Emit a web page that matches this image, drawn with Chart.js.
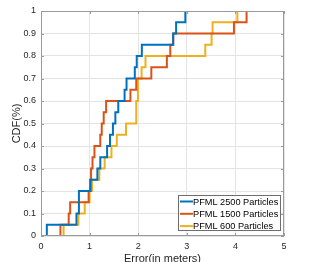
<!DOCTYPE html>
<html><head><meta charset="utf-8">
<script src="https://cdn.jsdelivr.net/npm/chart.js@4.4.1/dist/chart.umd.min.js"></script>
<style>html,body{margin:0;padding:0;background:#fff;overflow:hidden}</style>
</head><body>
<canvas id="c" width="314" height="262" style="display:block;width:314px;height:262px"></canvas>
<script>
const seriesNames = ['PFML 2500 Particles', 'PFML 1500 Particles', 'PFML 600 Particles'];
const err2500 = [0.12, 0.73, 0.78, 0.78, 1.02, 1.16, 1.22, 1.36, 1.42, 1.48, 1.53, 1.59, 1.72, 1.76, 1.93, 1.97, 2.075, 2.72, 2.78, 2.97];
const err1500 = [0.40, 0.57, 0.60, 0.98, 1.01, 1.03, 1.06, 1.10, 1.22, 1.25, 1.29, 1.34, 1.84, 1.96, 2.27, 2.59, 2.66, 2.72, 3.97, 4.23];
const err600  = [0.465, 0.77, 0.90, 1.00, 1.05, 1.20, 1.31, 1.45, 1.56, 1.75, 1.96, 1.96, 1.995, 1.995, 2.07, 2.15, 3.38, 3.51, 3.53, 4.04];
const cdfLevels = [0.05, 0.10, 0.15, 0.20, 0.25, 0.30, 0.35, 0.40, 0.45, 0.50, 0.55, 0.60, 0.65, 0.70, 0.75, 0.80, 0.85, 0.90, 0.95, 1.00];
const xTickLabels = ['0', '1', '2', '3', '4', '5'];
const yTickLabels = ['0', '0.1', '0.2', '0.3', '0.4', '0.5', '0.6', '0.7', '0.8', '0.9', '1'];
const seriesColors = ['#0072BD', '#D95319', '#EDB120'];

function cdfPoints(errs) {
  const pts = [{x: errs[0], y: 0}];
  errs.forEach((e, i) => pts.push({x: e, y: cdfLevels[i]}));
  return pts;
}

const FONT = '"Liberation Sans", Arial, Helvetica, sans-serif';
const TXT = '#262626';

const framePlugin = {
  id: 'frame',
  afterDraw(chart) {
    const ctx = chart.ctx, ca = chart.chartArea;
    const xs = chart.scales.x, ys = chart.scales.y;
    ctx.save();
    ctx.strokeStyle = '#9a9a9a';
    ctx.lineWidth = 1;
    ctx.strokeRect(Math.round(ca.left) + 0.5, Math.round(ca.top) + 0.5, Math.round(ca.right - ca.left) - 1, Math.round(ca.bottom - ca.top) - 1);
    ctx.beginPath();
    xs.ticks.forEach(t => {
      const px = Math.round(xs.getPixelForValue(t.value)) + 0.5;
      ctx.moveTo(px, ca.bottom); ctx.lineTo(px, ca.bottom - 3);
      ctx.moveTo(px, ca.top); ctx.lineTo(px, ca.top + 3);
    });
    ys.ticks.forEach(t => {
      const py = Math.round(ys.getPixelForValue(t.value)) + 0.5;
      ctx.moveTo(ca.left, py); ctx.lineTo(ca.left + 3, py);
      ctx.moveTo(ca.right, py); ctx.lineTo(ca.right - 3, py);
    });
    ctx.stroke();
    const lw = 102, lh = 35;
    const lx = Math.round(ca.right) - 106, ly = Math.round(ca.bottom) - 41;
    ctx.fillStyle = '#fff';
    ctx.fillRect(lx, ly, lw, lh);
    ctx.strokeStyle = '#6e6e6e';
    ctx.strokeRect(lx + 0.5, ly + 0.5, lw, lh);
    ctx.font = '9.2px ' + FONT;
    ctx.textBaseline = 'middle';
    ctx.textAlign = 'left';
    chart.data.datasets.forEach((ds, i) => {
      const y = ly + 6.5 + i * 12.3;
      ctx.strokeStyle = ds.borderColor;
      ctx.lineWidth = 2;
      ctx.beginPath(); ctx.moveTo(lx + 2, y); ctx.lineTo(lx + 15, y); ctx.stroke();
      ctx.fillStyle = '#000';
      ctx.fillText(ds.label, lx + 15, y + 0.5);
    });
    ctx.restore();
  }
};

new Chart(document.getElementById('c'), {
  type: 'line',
  data: {
    datasets: [err2500, err1500, err600].map((errs, i) => ({
      label: seriesNames[i],
      data: cdfPoints(errs),
      borderColor: seriesColors[i],
      backgroundColor: seriesColors[i],
      borderWidth: 2,
      pointRadius: 0,
      stepped: 'before',
      fill: false
    }))
  },
  options: {
    responsive: false,
    animation: false,
    devicePixelRatio: 1,
    layout: {padding: {left: 0, top: 11, right: 30, bottom: 0}},
    plugins: {legend: {display: false}, tooltip: {enabled: false}},
    scales: {
      x: {
        type: 'linear', min: 0, max: 5,
        afterFit: s => { s.height = 26; },
        ticks: {stepSize: 1, padding: 5, color: TXT, font: {size: 9, family: FONT},
          callback: (v, i) => xTickLabels[i]},
        grid: {color: '#e4e4e4', drawTicks: false},
        border: {display: false},
        title: {display: true, text: 'Error(in meters)', color: TXT, font: {size: 11, family: FONT}, padding: {top: 0, bottom: -4}}
      },
      y: {
        type: 'linear', min: 0, max: 1,
        afterFit: s => { s.width = 41; },
        ticks: {stepSize: 0.1, padding: 5, color: TXT, font: {size: 9, family: FONT},
          callback: (v, i) => yTickLabels[i]},
        grid: {color: '#e4e4e4', drawTicks: false},
        border: {display: false},
        title: {display: true, text: 'CDF(%)', color: TXT, font: {size: 11, family: FONT}, padding: {top: 10, bottom: 0}}
      }
    }
  },
  plugins: [framePlugin]
});
</script>
</body></html>
